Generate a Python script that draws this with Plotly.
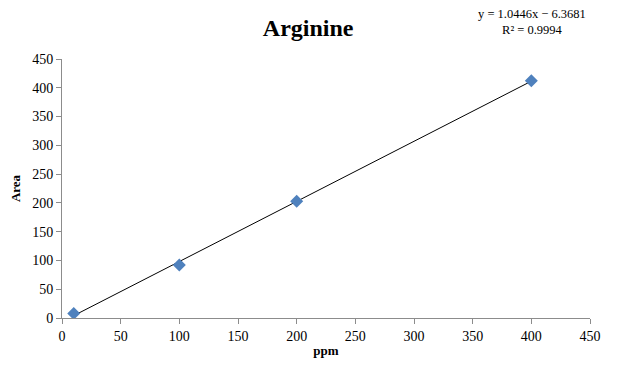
import plotly.graph_objects as go

ppm = [10, 100, 200, 400]
area = [8, 92, 203, 412]
slope = 1.0446
intercept = -6.3681
r2 = 0.9994
x_ticks = [0, 50, 100, 150, 200, 250, 300, 350, 400, 450]
y_ticks = [0, 50, 100, 150, 200, 250, 300, 350, 400, 450]

FONT = "Liberation Serif"

line_x = [min(ppm), max(ppm)]
line_y = [slope * v + intercept for v in line_x]

fig = go.Figure()
fig.add_trace(go.Scatter(x=line_x, y=line_y, mode="lines",
                         line=dict(color="black", width=1), hoverinfo="skip"))
fig.add_trace(go.Scatter(x=ppm, y=area, mode="markers",
                         marker=dict(symbol="diamond", size=10, color="#4F81BD",
                                     line=dict(width=0))))

axis_common = dict(showgrid=False, zeroline=False, showline=True, linecolor="#8c8c8c",
                   linewidth=1, ticks="outside", ticklen=5, tickcolor="#8c8c8c",
                   automargin=False,
                   tickfont=dict(family=FONT, size=14, color="black"))

fig.update_layout(
    width=620, height=366,
    margin=dict(l=62, r=30, t=59, b=48),
    paper_bgcolor="white", plot_bgcolor="white",
    showlegend=False,
    title=dict(text="<b>Arginine</b>", x=0.497, xanchor="center", y=0.925, yanchor="middle",
               font=dict(family=FONT, size=24, color="black")),
    xaxis=dict(range=[0, 450], tickvals=x_ticks,
               title=dict(text="<b>ppm</b>", font=dict(family=FONT, size=13, color="black"), standoff=3),
               **axis_common),
    yaxis=dict(range=[0, 450], tickvals=y_ticks,
               title=dict(text="<b>Area</b>", font=dict(family=FONT, size=13, color="black"), standoff=8),
               **axis_common),
)

fig.add_annotation(xref="paper", yref="paper", x=0.89, y=1.141, xanchor="center", yanchor="middle",
                   text=f"y = {slope}x − {abs(intercept)}<br>R² = {r2}", showarrow=False,
                   align="center", font=dict(family=FONT, size=12.5, color="black"))

fig.write_html("out.html")
